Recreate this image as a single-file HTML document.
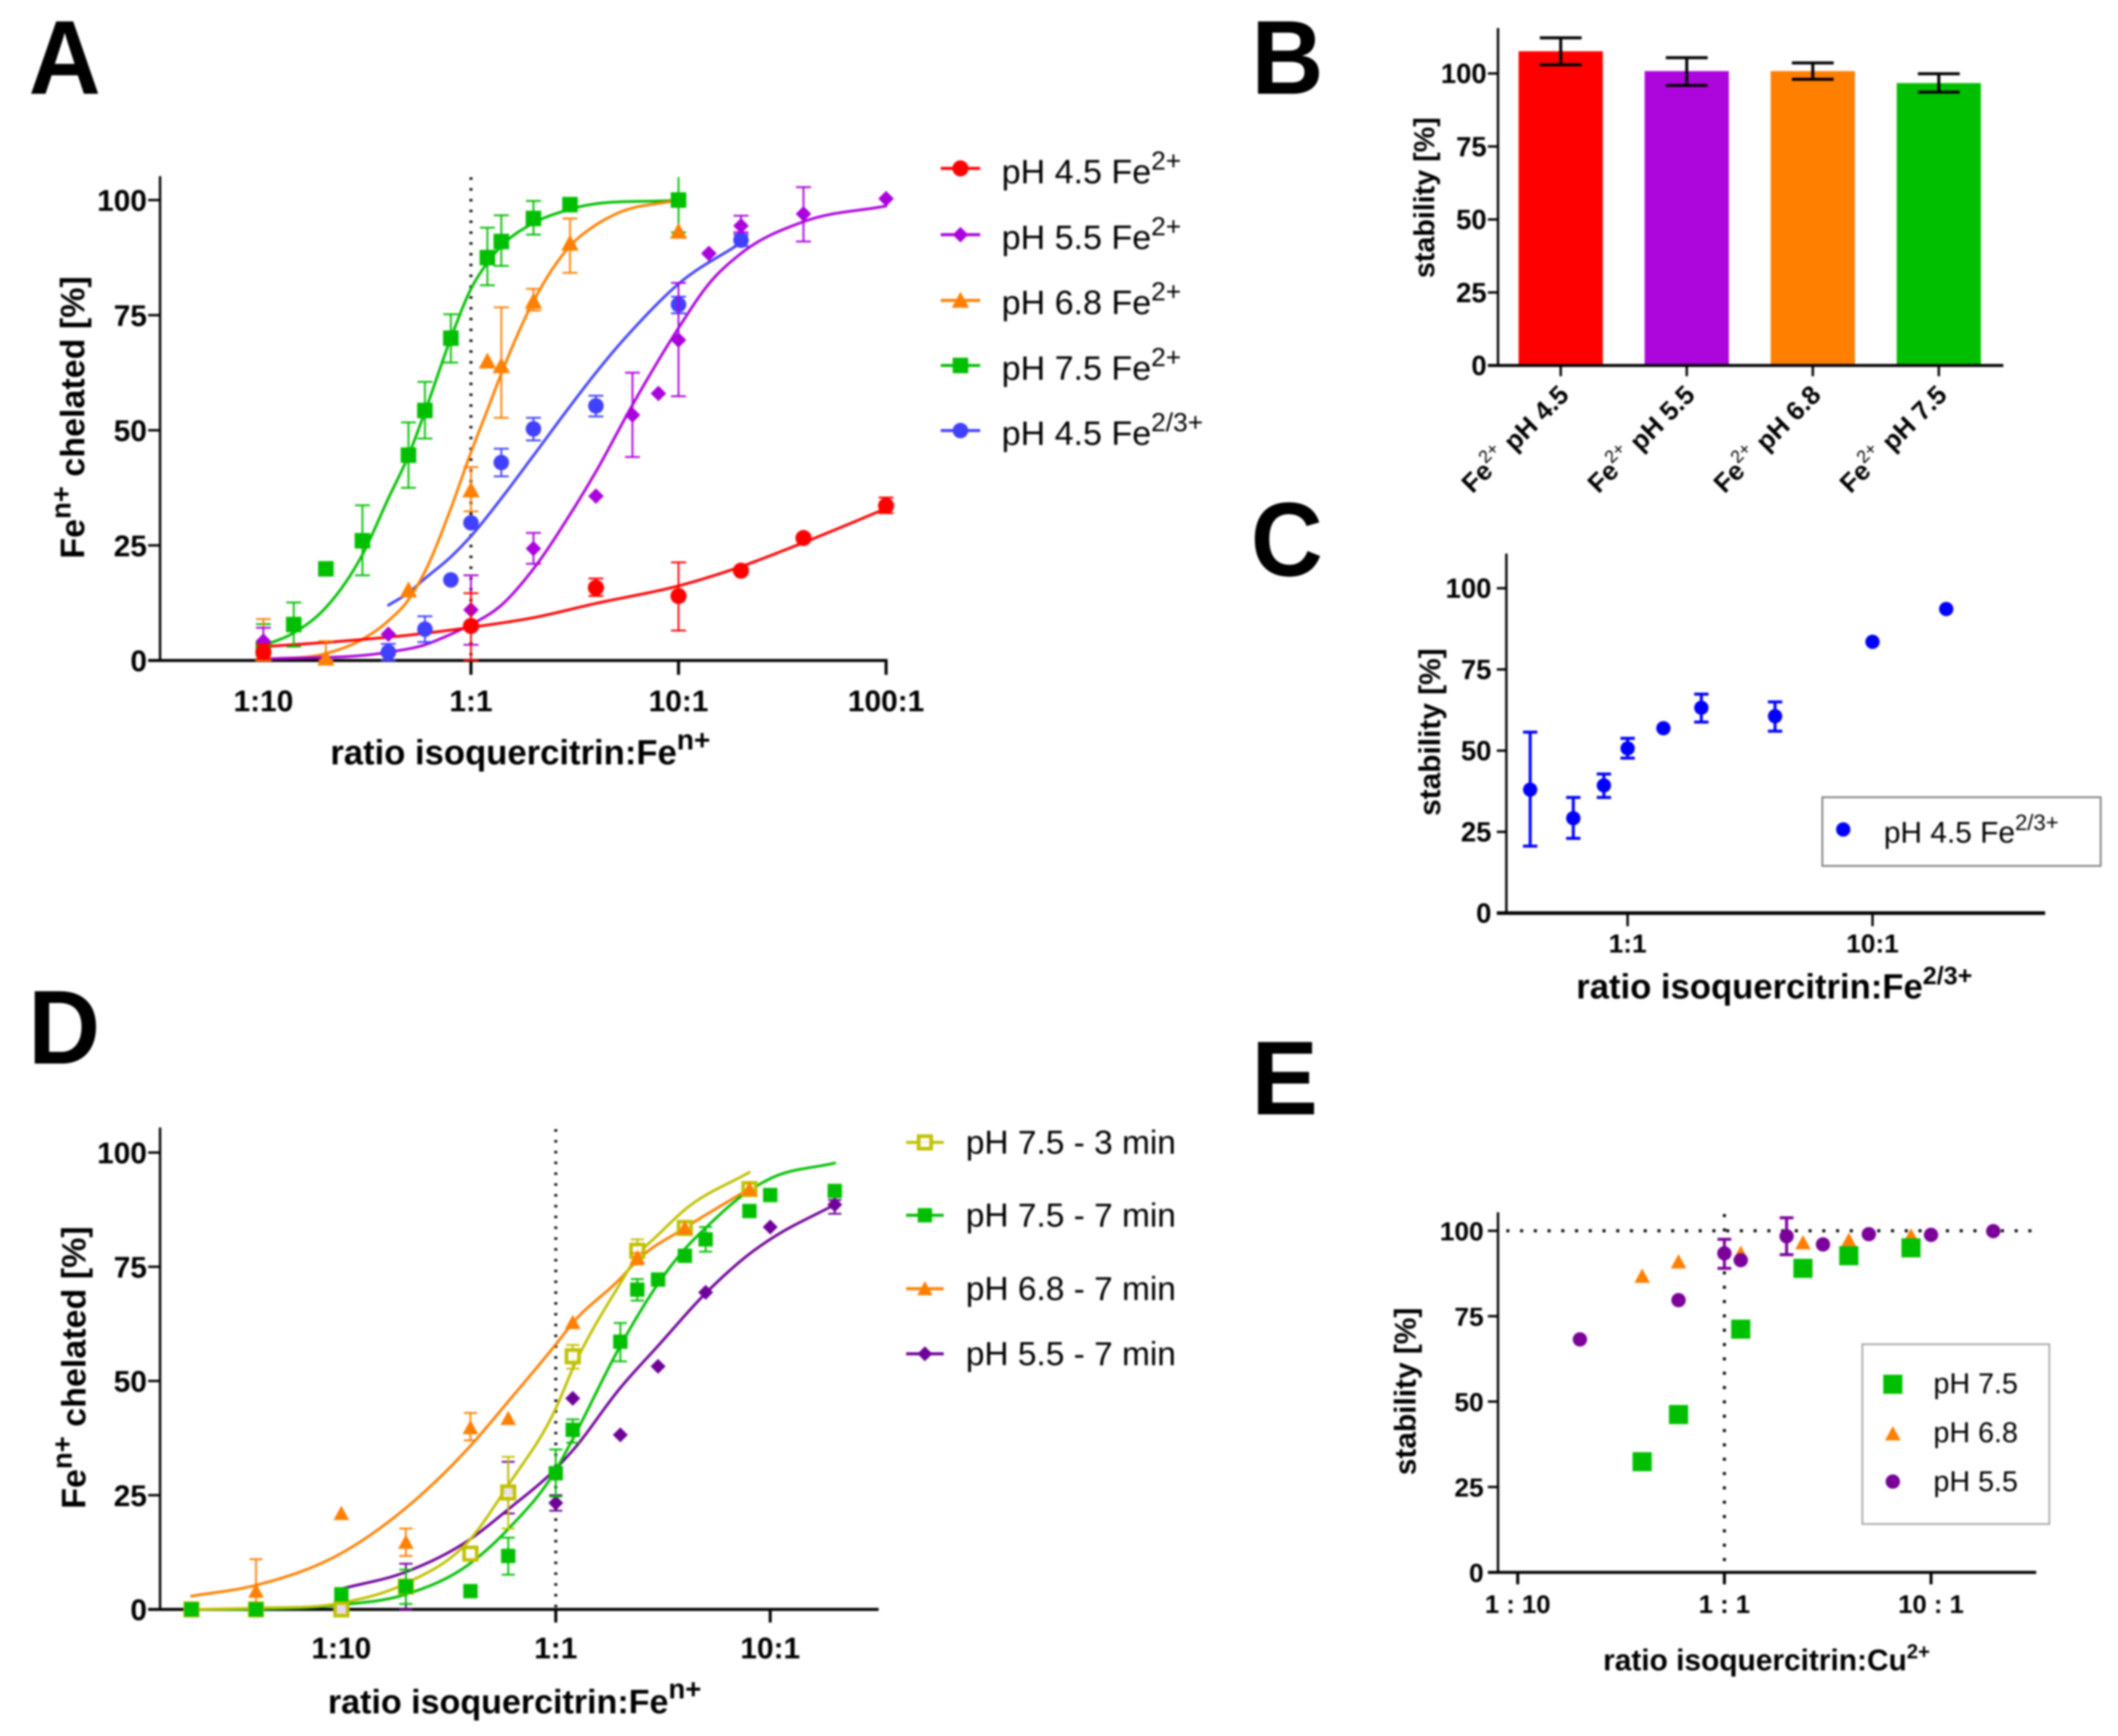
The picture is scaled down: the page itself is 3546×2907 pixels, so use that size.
<!DOCTYPE html>
<html lang="en">
<head>
<meta charset="utf-8">
<title>Isoquercitrin metal chelation panels</title>
<style>
html,body{margin:0;padding:0;background:#fff;width:3546px;height:2907px;overflow:hidden}
svg{display:block;filter:blur(1.5px)}
text{font-family:"Liberation Sans",Arial,sans-serif;fill:#000}
.b{font-weight:700}
.letter{font-weight:700;font-size:176px}
</style>
</head>
<body>
<svg id="fig" xmlns="http://www.w3.org/2000/svg" width="3546" height="2907" viewBox="0 0 3546 2907">
<rect width="3546" height="2907" fill="#fff"/>

<g id="panel-a">
  <text class="letter" transform="translate(48,157) scale(.95,1)">A</text>
  <text class="b" font-size="57" text-anchor="middle" transform="translate(141,699) rotate(-90)">Fe<tspan dy="-23" font-size="46">n+</tspan><tspan dy="23"> chelated [%]</tspan></text>
  <text class="b" font-size="58" x="553" y="1280">ratio isoquercitrin:Fe<tspan dy="-25" font-size="47">n+</tspan></text>
  <text font-size="57" x="1677" y="307">pH 4.5 Fe<tspan dy="-23" font-size="44">2+</tspan></text>
  <text font-size="57" x="1677" y="417">pH 5.5 Fe<tspan dy="-23" font-size="44">2+</tspan></text>
  <text font-size="57" x="1677" y="526">pH 6.8 Fe<tspan dy="-23" font-size="44">2+</tspan></text>
  <text font-size="57" x="1677" y="636">pH 7.5 Fe<tspan dy="-23" font-size="44">2+</tspan></text>
  <text font-size="57" x="1677" y="745">pH 4.5 Fe<tspan dy="-23" font-size="44">2/3+</tspan></text>
</g>

<g id="panel-b">
  <text class="letter" transform="translate(2095,157) scale(.95,1)">B</text>
  <text class="b" font-size="48" text-anchor="middle" transform="translate(2401,331) rotate(-90)">stability [%]</text>
</g>

<g id="panel-c">
  <text class="letter" transform="translate(2094,964) scale(.95,1)">C</text>
  <text class="b" font-size="50" text-anchor="middle" transform="translate(2411,1226) rotate(-90)">stability [%]</text>
  <text class="b" font-size="58" x="2639" y="1672">ratio isoquercitrin:Fe<tspan dy="-24" font-size="42">2/3+</tspan></text>
  <rect x="3051" y="1335" width="466" height="115" fill="#fff" stroke="#808080" stroke-width="3"/>
  <text font-size="50" x="3154" y="1411">pH 4.5 Fe<tspan dy="-21" font-size="37">2/3+</tspan></text>
</g>

<g id="panel-d">
  <text class="letter" transform="translate(47,1781) scale(.95,1)">D</text>
  <text class="b" font-size="57" text-anchor="middle" transform="translate(143,2290) rotate(-90)">Fe<tspan dy="-23" font-size="46">n+</tspan><tspan dy="23"> chelated [%]</tspan></text>
  <text class="b" font-size="57" x="549" y="2869">ratio isoquercitrin:Fe<tspan dy="-25" font-size="46">n+</tspan></text>
  <text font-size="56" x="1617" y="1932">pH 7.5 - 3 min</text>
  <text font-size="56" x="1617" y="2054">pH 7.5 - 7 min</text>
  <text font-size="56" x="1617" y="2177">pH 6.8 - 7 min</text>
  <text font-size="56" x="1617" y="2286">pH 5.5 - 7 min</text>
</g>

<g id="panel-e">
  <text class="letter" transform="translate(2095,1866) scale(.95,1)">E</text>
  <text class="b" font-size="50" text-anchor="middle" transform="translate(2370,2330) rotate(-90)">stability [%]</text>
  <text class="b" font-size="50" x="2684" y="2797">ratio isoquercitrin:Cu<tspan dy="-20" font-size="34">2+</tspan></text>
  <rect x="3118" y="2251" width="313" height="301" fill="#fff" stroke="#aaaaaa" stroke-width="3"/>
  <text font-size="48" x="3237" y="2333">pH 7.5</text>
  <text font-size="48" x="3237" y="2415">pH 6.8</text>
  <text font-size="48" x="3237" y="2497">pH 5.5</text>
</g>
</svg>

<script>
/* shared drawing helpers */
const NS = 'http://www.w3.org/2000/svg';
function mk(parent, tag, name, attrs) {
  const el = document.createElementNS(NS, tag);
  for (const k in attrs) el.setAttribute(k, attrs[k]);
  
  
  parent.appendChild(el);
  return el;
}
function logScale(px1, decade) { return r => px1 + decade * Math.log10(r); }
function linScale(py0, perUnit) { return v => py0 - perUnit * v; }
function marker(parent, shape, cx, cy, s, color, name) {
  const h = s / 2;
  if (shape === 'circle') return mk(parent, 'circle', name, {cx: cx, cy: cy, r: h, fill: color});
  if (shape === 'square') return mk(parent, 'rect', name, {x: cx - h, y: cy - h, width: s, height: s, fill: color});
  if (shape === 'open') return mk(parent, 'rect', name, {x: cx - h + 3, y: cy - h + 3, width: s - 6, height: s - 6, fill: '#fff', 'fill-opacity': 0.85, stroke: color, 'stroke-width': 6});
  if (shape === 'diamond') return mk(parent, 'polygon', name, {points: [cx, cy - h, cx + h, cy, cx, cy + h, cx - h, cy].join(' '), fill: color});
  return mk(parent, 'polygon', name, {points: [cx, cy - h, cx + h, cy + h * 0.85, cx - h, cy + h * 0.85].join(' '), fill: color});
}
function splinePath(px, py) {
  const n = px.length, m = [];
  for (let i = 0; i < n; i++) {
    if (i === 0) { m.push((py[1] - py[0]) / (px[1] - px[0])); continue; }
    if (i === n - 1) { m.push((py[i] - py[i - 1]) / (px[i] - px[i - 1])); continue; }
    const h0 = px[i] - px[i - 1], h1 = px[i + 1] - px[i];
    m.push(((py[i + 1] - py[i]) / h1 * h0 + (py[i] - py[i - 1]) / h0 * h1) / (h0 + h1));
  }
  let d = 'M' + px[0].toFixed(1) + ' ' + py[0].toFixed(1);
  for (let i = 0; i < n - 1; i++) {
    const h = px[i + 1] - px[i];
    d += 'C' + (px[i] + h / 3).toFixed(1) + ' ' + (py[i] + m[i] * h / 3).toFixed(1) + ' ' +
         (px[i + 1] - h / 3).toFixed(1) + ' ' + (py[i + 1] - m[i + 1] * h / 3).toFixed(1) + ' ' +
         px[i + 1].toFixed(1) + ' ' + py[i + 1].toFixed(1);
  }
  return d;
}
function curve(parent, xs, ys, sx, sy, color, width, name) {
  return mk(parent, 'path', name, {d: splinePath(xs.map(sx), ys.map(sy)), fill: 'none', stroke: color, 'stroke-width': width, 'stroke-linecap': 'round'});
}
function errorBar(parent, x, yHi, yLo, capW, color, width, name, noTopCap) {
  const g = mk(parent, 'g', name, {stroke: color, 'stroke-width': width});
  mk(g, 'line', name + '-stem', {x1: x, x2: x, y1: yHi, y2: yLo});
  if (!noTopCap) mk(g, 'line', name + '-cap-high', {x1: x - capW / 2, x2: x + capW / 2, y1: yHi, y2: yHi});
  mk(g, 'line', name + '-cap-low', {x1: x - capW / 2, x2: x + capW / 2, y1: yLo, y2: yLo});
}
function points(parent, prefix, xs, ys, hi, lo, sx, sy, o) {
  xs.forEach((x, i) => {
    if (hi && hi[i] !== null) errorBar(parent, sx(x), sy(hi[i]), sy(lo[i]), o.cap, o.color, o.ew, prefix + '-error-' + i, o.yMax !== undefined && hi[i] >= o.yMax);
  });
  xs.forEach((x, i) => {
    marker(parent, o.shape, sx(x), sy(ys[i]), o.size, o.color, prefix + '-point-' + i);
  });
}
function yAxis(parent, prefix, x, top, y0, left, sy, ticks, labelRight, fontSize, offset, lw) {
  mk(parent, 'line', prefix + '-y-axis', {x1: x, x2: x, y1: top, y2: y0 + lw / 2, stroke: '#000', 'stroke-width': lw});
  ticks.forEach(t => {
    mk(parent, 'line', prefix + '-y-tick-' + t, {x1: left, x2: x, y1: sy(t), y2: sy(t), stroke: '#000', 'stroke-width': lw});
    const el = mk(parent, 'text', prefix + '-y-label-' + t, {x: labelRight, y: sy(t) + offset, 'text-anchor': 'end', 'font-size': fontSize, 'font-weight': 700});
    el.textContent = String(t);
  });
}
function xAxisLine(parent, prefix, left, right, y0, lw) {
  mk(parent, 'line', prefix + '-x-axis', {x1: left, x2: right, y1: y0, y2: y0, stroke: '#000', 'stroke-width': lw});
}
function xTicks(parent, prefix, marks, sx, y0, len, lw) {
  marks.forEach(m => {
    mk(parent, 'line', prefix + '-x-tick-' + m, {x1: sx(m), x2: sx(m), y1: y0, y2: y0 + len, stroke: '#000', 'stroke-width': lw});
  });
}
function xLabels(parent, prefix, vals, labels, sx, y, fontSize) {
  vals.forEach((v, i) => {
    const el = mk(parent, 'text', prefix + '-x-label-' + i, {x: sx(v), y: y, 'text-anchor': 'middle', 'font-size': fontSize, 'font-weight': 700});
    el.textContent = labels[i];
  });
}
function legendKey(parent, prefix, x1, x2, y, shape, size, color, lw) {
  mk(parent, 'line', prefix + '-line', {x1: x1, x2: x2, y1: y, y2: y, stroke: color, 'stroke-width': lw});
  marker(parent, shape, (x1 + x2) / 2, y, size, color, prefix + '-marker');
}
</script>

<script>
/* panel A data */
const aYTicks = [0, 25, 50, 75, 100];
const aXTickMarks = [1, 10, 100];
const aXLabelValues = [0.1, 1, 10, 100];
const aXLabels = ['1:10', '1:1', '10:1', '100:1'];
const aVerticalRefX = [1];

const aRedX  = [0.1, 1, 4, 10, 20, 40, 100];
const aRedY  = [1.8, 7.5, 15.8, 14, 19.5, 26.6, 33.6];
const aRedHi = [3.5, 14.6, 17.8, 21.3, null, null, 35.4];
const aRedLo = [0.3, 0, 14, 6.5, null, null, 32];
const aRedCurveX = [0.1, 0.24, 0.5, 1, 2, 4, 10, 20, 40, 100];
const aRedCurveY = [3, 4.2, 5.5, 7.2, 9.3, 12.4, 16.2, 20.4, 25.6, 33];

const aPurpleX  = [0.1, 0.4, 1, 2, 4, 6, 8, 10, 14, 20, 40, 100];
const aPurpleY  = [4.2, 5.7, 11, 24.3, 35.7, 53.3, 58, 69.6, 88.4, 94.4, 97, 100.3];
const aPurpleHi = [7.1, null, 18.5, 27.7, null, 62.5, null, 82, null, 96.6, 102.8, null];
const aPurpleLo = [1.5, null, 3.4, 21, null, 44.2, null, 57.4, null, 93, 91, null];
const aPurpleCurveX = [0.1, 0.4, 0.6, 0.8, 1, 1.4, 2, 3, 4, 6, 10, 14, 20, 40, 100];
const aPurpleCurveY = [0.3, 1.8, 3.4, 5.7, 7.8, 12, 19.9, 31.7, 41, 55.5, 72.2, 81.8, 88.4, 95.3, 98.7];

const aOrangeX  = [0.1, 0.2, 0.5, 1, 1.2, 1.4, 2, 3, 10];
const aOrangeY  = [1.5, 0.5, 15.3, 37, 65, 64, 78, 90.6, 93.2];
const aOrangeHi = [9, 4.2, null, 42, null, 76.7, 80.7, 96, null];
const aOrangeLo = [0, 0, null, 32.4, null, 52.7, 76, 84.2, null];
const aOrangeCurveX = [0.1, 0.2, 0.3, 0.4, 0.5, 0.6, 0.8, 1, 1.2, 1.4, 2, 3, 4, 5, 10];
const aOrangeCurveY = [0.3, 1.5, 4.6, 8.6, 13.2, 19.3, 33, 45.2, 54.4, 62.3, 78, 90, 94.6, 97, 100];

const aGreenX  = [0.1, 0.14, 0.2, 0.3, 0.5, 0.6, 0.8, 1.2, 1.4, 2, 3, 10];
const aGreenY  = [2.5, 7.8, 19.9, 26, 44.6, 54.3, 70, 87.5, 91, 96, 99, 100];
const aGreenHi = [7.9, 12.6, null, 33.7, 51.7, 60.5, 75.2, 94, 96.7, 99.8, null, 105];
const aGreenLo = [0, 3, null, 18.5, 37.5, 48.2, 64.7, 81.5, 85.7, 92.5, null, 93];
const aGreenCurveX = [0.1, 0.14, 0.2, 0.3, 0.4, 0.5, 0.6, 0.8, 1, 1.2, 1.4, 2, 3, 10];
const aGreenCurveY = [3.2, 6, 11.5, 23, 35.2, 44.5, 54, 70, 80.7, 86.4, 90, 95, 98, 100];

const aBlueX  = [0.4, 0.6, 0.8, 1, 1.4, 2, 4, 10, 20];
const aBlueY  = [1.8, 6.8, 17.5, 29.9, 43, 50.3, 55.3, 77.3, 91.3];
const aBlueHi = [3.6, 9.6, null, null, 46, 52.7, 57.5, 79, 92.5];
const aBlueLo = [0, 4, null, null, 40, 47.8, 53, 75.4, 90];
const aBlueCurveX = [0.4, 0.5, 0.6, 0.8, 1, 1.4, 2, 3, 4, 5, 6, 10, 20];
const aBlueCurveY = [12, 14.7, 17.8, 22.5, 27, 35.2, 44.5, 55.2, 62.5, 67.8, 71.8, 81.8, 90.7];

(function () {
  const P = document.getElementById('panel-a');
  const sx = logScale(788.5, 347.5), sy = linScale(1106, 7.71);
  const RED = '#ff0000', PUR = '#aa00dd', ORG = '#ff7f00', GRN = '#00bf00', BLU = '#4040ff';
  yAxis(P, 'a', 268, 295, 1106, 248, sy, aYTicks, 246, 50, 18, 4);
  xAxisLine(P, 'a', 248, 1486, 1106, 5);
  xTicks(P, 'a', aXTickMarks, sx, 1106, 24, 5);
  xLabels(P, 'a', aXLabelValues, aXLabels, sx, 1191, 50);
  aVerticalRefX.forEach(v => {
    mk(P, 'line', 'a-reference-line-1-1', {x1: sx(v), x2: sx(v), y1: 297, y2: 1104, stroke: '#000', 'stroke-width': 5, 'stroke-dasharray': '4 14.1'});
  });
  curve(P, aBlueCurveX, aBlueCurveY, sx, sy, BLU, 4.5, 'a-curve-ph45-fe23');
  curve(P, aGreenCurveX, aGreenCurveY, sx, sy, GRN, 4.5, 'a-curve-ph75-fe2');
  curve(P, aOrangeCurveX, aOrangeCurveY, sx, sy, ORG, 4.5, 'a-curve-ph68-fe2');
  curve(P, aPurpleCurveX, aPurpleCurveY, sx, sy, PUR, 4.5, 'a-curve-ph55-fe2');
  curve(P, aRedCurveX, aRedCurveY, sx, sy, RED, 4.5, 'a-curve-ph45-fe2');
  points(P, 'a-ph45-fe23', aBlueX, aBlueY, aBlueHi, aBlueLo, sx, sy, {shape: 'circle', size: 26, color: BLU, cap: 25, ew: 3});
  points(P, 'a-ph75-fe2', aGreenX, aGreenY, aGreenHi, aGreenLo, sx, sy, {shape: 'square', size: 26, color: GRN, cap: 25, ew: 3, yMax: 105});
  points(P, 'a-ph68-fe2', aOrangeX, aOrangeY, aOrangeHi, aOrangeLo, sx, sy, {shape: 'triangle', size: 29, color: ORG, cap: 25, ew: 3});
  points(P, 'a-ph55-fe2', aPurpleX, aPurpleY, aPurpleHi, aPurpleLo, sx, sy, {shape: 'diamond', size: 26, color: PUR, cap: 25, ew: 3});
  points(P, 'a-ph45-fe2', aRedX, aRedY, aRedHi, aRedLo, sx, sy, {shape: 'circle', size: 27, color: RED, cap: 25, ew: 3});
  legendKey(P, 'a-legend-ph45-fe2', 1575, 1641, 282, 'circle', 27, RED, 5);
  legendKey(P, 'a-legend-ph55-fe2', 1575, 1641, 393, 'diamond', 26, PUR, 5);
  legendKey(P, 'a-legend-ph68-fe2', 1575, 1641, 503, 'triangle', 29, ORG, 5);
  legendKey(P, 'a-legend-ph75-fe2', 1575, 1641, 612, 'square', 26, GRN, 5);
  legendKey(P, 'a-legend-ph45-fe23', 1575, 1641, 721, 'circle', 26, BLU, 5);
})();
</script>

<script>
/* panel B data */
const bCategories = ['pH 4.5', 'pH 5.5', 'pH 6.8', 'pH 7.5'];
const bValues = [107.6, 100.8, 100.8, 96.7];
const bErrHi = [112.2, 105.4, 103.6, 99.9];
const bErrLo = [103, 95.9, 98, 93.6];
const bColors = ['#ff0000', '#ad06dd', '#ff7f00', '#00bf00'];
const bYTicks = [0, 25, 50, 75, 100];

(function () {
  const P = document.getElementById('panel-b');
  const sy = linScale(612, 4.89);
  const sx = i => 2613 + i * 211;
  const barW = 141;
  yAxis(P, 'b', 2508, 47, 612, 2491, sy, bYTicks, 2489, 46, 16, 4);
  bValues.forEach((v, i) => {
    mk(P, 'rect', 'b-bar-' + i, {x: sx(i) - barW / 2, y: sy(v), width: barW, height: sy(0) - sy(v), fill: bColors[i]});
  });
  bValues.forEach((v, i) => {
    errorBar(P, sx(i), sy(bErrHi[i]), sy(bErrLo[i]), 70, '#000', 5, 'b-error-' + i);
  });
  xAxisLine(P, 'b', 2491, 3354, 612, 5);
  bCategories.forEach((c, i) => {
    mk(P, 'line', 'b-x-tick-' + i, {x1: sx(i), x2: sx(i), y1: 612, y2: 630, stroke: '#000', 'stroke-width': 4});
    const t = mk(P, 'text', 'b-x-label-' + i, {'text-anchor': 'end', 'font-size': 44, 'font-weight': 700, transform: 'translate(' + (sx(i) + 16) + ',664) rotate(-45)'});
    const a = mk(t, 'tspan', 'b-x-label-metal-' + i, {});
    a.textContent = 'Fe';
    const s = mk(t, 'tspan', 'b-x-label-charge-' + i, {dy: -20, 'font-size': 30, 'font-weight': 400});
    s.textContent = '2+';
    const b = mk(t, 'tspan', 'b-x-label-ph-' + i, {dy: 20, dx: 14});
    b.textContent = c;
  });
})();
</script>

<script>
/* panel C data */
const cX = [0.4, 0.6, 0.8, 1, 1.4, 2, 4, 10, 20];
const cY = [38, 29.2, 39.3, 50.7, 56.9, 63.2, 60.6, 83.5, 93.6];
const cHi = [55.7, 35.6, 42.8, 53.8, null, 67.4, 65, null, null];
const cLo = [20.6, 23, 35.6, 47.7, null, 58.8, 56, null, null];
const cYTicks = [0, 25, 50, 75, 100];
const cXTickValues = [1, 10];
const cXLabels = ['1:1', '10:1'];

(function () {
  const P = document.getElementById('panel-c');
  const sx = logScale(2725, 410), sy = linScale(1529, 5.44);
  yAxis(P, 'c', 2522, 927, 1529, 2506, sy, cYTicks, 2497, 46, 16, 4);
  xAxisLine(P, 'c', 2506, 3424, 1529, 6);
  xTicks(P, 'c', cXTickValues, sx, 1529, 22, 4);
  xLabels(P, 'c', cXTickValues, cXLabels, sx, 1595, 44);
  points(P, 'c-ph45-fe23', cX, cY, cHi, cLo, sx, sy, {shape: 'circle', size: 24, color: '#0000ff', cap: 24, ew: 5});
  marker(P, 'circle', 3086, 1389, 24, '#0000ff', 'c-legend-marker');
})();
</script>

<script>
/* panel D data */
const dYTicks = [0, 25, 50, 75, 100];
const dXTickMarks = [1, 10];
const dXLabelValues = [0.1, 1, 10];
const dXLabels = ['1:10', '1:1', '10:1'];
const dVerticalRefX = [1];

const dYellowX  = [0.02, 0.04, 0.1, 0.2, 0.4, 0.6, 1.2, 2.4, 4, 8];
const dYellowY  = [0, 0, 0, 5, 12.2, 25.6, 55.4, 78.5, 83.5, 92];
const dYellowHi = [null, null, null, null, null, 33.4, 57.9, 81, null, null];
const dYellowLo = [null, null, null, null, null, 17.7, 52.7, 76, null, null];
const dYellowCurveX = [0.02, 0.04, 0.1, 0.2, 0.4, 0.6, 1, 1.2, 2, 2.4, 3, 4, 8];
const dYellowCurveY = [0, 0.3, 1.4, 5.7, 15.4, 27.2, 44, 52.7, 71.4, 77.4, 82, 87.5, 95.7];

const dGreenX  = [0.02, 0.04, 0.1, 0.2, 0.4, 0.6, 1, 1.2, 2, 2.4, 3, 4, 5, 8, 10, 20];
const dGreenY  = [0, 0, 3.3, 5, 4, 11.7, 29.8, 39.3, 58.6, 70, 72.2, 77.4, 81, 87.2, 90.7, 91.6];
const dGreenHi = [null, null, null, 8.7, null, 15.7, 35, 41.6, 62.7, 72.3, null, null, 83.7, null, null, null];
const dGreenLo = [null, null, null, 1.2, null, 7.6, 24.7, 36.5, 54.3, 67.6, null, null, 78.3, null, null, null];
const dGreenCurveX = [0.02, 0.04, 0.1, 0.2, 0.4, 0.6, 1, 1.2, 2, 3, 4, 5, 8, 10, 20];
const dGreenCurveY = [0, 0.1, 1, 3.3, 10.1, 17.6, 30.5, 37.3, 57.7, 71.3, 78.9, 83.5, 91.7, 94.3, 97.7];

const dOrangeX  = [0.02, 0.04, 0.1, 0.2, 0.4, 0.6, 1.2, 2.4, 4, 8];
const dOrangeY  = [0, 4, 21, 14.7, 39.8, 41.8, 62.8, 77, 83.5, 92];
const dOrangeHi = [null, 11, null, 17.7, 43, null, null, 78, null, null];
const dOrangeLo = [null, 0, null, 11.7, 37, null, null, 75.5, null, null];
const dOrangeCurveX = [0.02, 0.04, 0.1, 0.2, 0.4, 0.6, 1, 1.2, 2, 2.4, 4, 8];
const dOrangeCurveY = [2.9, 5.3, 12.3, 22.2, 35.8, 45.5, 58, 62.7, 72.4, 76.4, 83.5, 92.1];

const dPurpleX  = [0.1, 0.2, 0.6, 1, 1.2, 2, 3, 5, 10, 20];
const dPurpleY  = [0, 5, 26, 23.3, 46.2, 38.2, 53.2, 69.4, 83.7, 88.6];
const dPurpleHi = [null, 10, 32.3, 25, null, null, null, null, null, 89.6];
const dPurpleLo = [null, 0, 21, 21.6, null, null, null, null, null, 86.6];
const dPurpleCurveX = [0.1, 0.2, 0.4, 0.6, 1, 1.2, 2, 3, 5, 8, 10, 20];
const dPurpleCurveY = [4.5, 8.2, 15.4, 21.9, 30.8, 34.8, 48.5, 57.7, 69.2, 77.8, 81, 88.6];

(function () {
  const P = document.getElementById('panel-d');
  const sx = logScale(930.5, 359), sy = linScale(2695, 7.65);
  const YEL = '#c0c000', GRN = '#00bf00', ORG = '#ff7f00', PUR = '#6e0099';
  yAxis(P, 'd', 268, 1888, 2695, 248, sy, dYTicks, 246, 50, 18, 4);
  xAxisLine(P, 'd', 248, 1471, 2695, 5);
  xTicks(P, 'd', dXTickMarks, sx, 2695, 22, 5);
  xLabels(P, 'd', dXLabelValues, dXLabels, sx, 2777, 50);
  dVerticalRefX.forEach(v => {
    mk(P, 'line', 'd-reference-line-1-1', {x1: sx(v), x2: sx(v), y1: 1891, y2: 2693, stroke: '#000', 'stroke-width': 5, 'stroke-dasharray': '4 14.1'});
  });
  curve(P, dPurpleCurveX, dPurpleCurveY, sx, sy, PUR, 4.5, 'd-curve-ph55-7min');
  curve(P, dOrangeCurveX, dOrangeCurveY, sx, sy, ORG, 4.5, 'd-curve-ph68-7min');
  curve(P, dGreenCurveX, dGreenCurveY, sx, sy, GRN, 4.5, 'd-curve-ph75-7min');
  curve(P, dYellowCurveX, dYellowCurveY, sx, sy, YEL, 4.5, 'd-curve-ph75-3min');
  points(P, 'd-ph55-7min', dPurpleX, dPurpleY, dPurpleHi, dPurpleLo, sx, sy, {shape: 'diamond', size: 25, color: PUR, cap: 22, ew: 3});
  points(P, 'd-ph75-3min', dYellowX, dYellowY, dYellowHi, dYellowLo, sx, sy, {shape: 'open', size: 27, color: YEL, cap: 22, ew: 3});
  points(P, 'd-ph68-7min', dOrangeX, dOrangeY, dOrangeHi, dOrangeLo, sx, sy, {shape: 'triangle', size: 26, color: ORG, cap: 22, ew: 3});
  points(P, 'd-ph75-7min', dGreenX, dGreenY, dGreenHi, dGreenLo, sx, sy, {shape: 'square', size: 24, color: GRN, cap: 22, ew: 3});
  legendKey(P, 'd-legend-ph75-3min', 1517, 1580, 1913, 'open', 27, YEL, 5);
  legendKey(P, 'd-legend-ph75-7min', 1517, 1580, 2035, 'square', 24, GRN, 5);
  legendKey(P, 'd-legend-ph68-7min', 1517, 1580, 2158, 'triangle', 26, ORG, 5);
  legendKey(P, 'd-legend-ph55-7min', 1517, 1580, 2267, 'diamond', 25, PUR, 5);
})();
</script>

<script>
/* panel E data */
const eYTicks = [0, 25, 50, 75, 100];
const eXTickValues = [0.1, 1, 10];
const eXLabels = ['1 : 10', '1 : 1', '10 : 1'];
const eReferenceStability = [100];
const eReferenceRatio = [1];

const eGreenX = [0.4, 0.6, 1.2, 2.4, 4, 8];
const eGreenY = [32.4, 46.2, 71.2, 89, 92.7, 95];

const eOrangeX = [0.4, 0.6, 1.2, 2.4, 4, 8];
const eOrangeY = [86.7, 90.9, 93.4, 96.5, 97.2, 98.5];

const ePurpleX  = [0.2, 0.6, 1, 1.2, 2, 3, 5, 10, 20];
const ePurpleY  = [68.2, 79.7, 93.4, 91.4, 98.4, 96, 99, 98.8, 99.9];
const ePurpleHi = [null, null, 97.5, null, 103.8, null, null, null, null];
const ePurpleLo = [null, null, 89, null, 93, null, null, null, null];

(function () {
  const P = document.getElementById('panel-e');
  const sx = logScale(2887, 346), sy = linScale(2633, 5.72);
  const GRN = '#00bf00', ORG = '#ff7f00', PUR = '#7a0099';
  yAxis(P, 'e', 2508, 2030, 2633, 2491, sy, eYTicks, 2484, 44, 16, 4);
  xAxisLine(P, 'e', 2491, 3409, 2633, 5);
  xTicks(P, 'e', eXTickValues, sx, 2633, 20, 5);
  xLabels(P, 'e', eXTickValues, eXLabels, sx, 2701, 43);
  eReferenceStability.forEach(v => {
    mk(P, 'line', 'e-reference-line-100', {x1: 2522, x2: 3409, y1: sy(v), y2: sy(v), stroke: '#000', 'stroke-width': 5, 'stroke-dasharray': '5 18'});
  });
  eReferenceRatio.forEach(v => {
    mk(P, 'line', 'e-reference-line-1-1', {x1: sx(v), x2: sx(v), y1: 2033, y2: 2631, stroke: '#000', 'stroke-width': 5, 'stroke-dasharray': '5 19'});
  });
  points(P, 'e-ph68', eOrangeX, eOrangeY, null, null, sx, sy, {shape: 'triangle', size: 26, color: ORG});
  points(P, 'e-ph75', eGreenX, eGreenY, null, null, sx, sy, {shape: 'square', size: 32, color: GRN});
  points(P, 'e-ph55', ePurpleX, ePurpleY, ePurpleHi, ePurpleLo, sx, sy, {shape: 'circle', size: 24, color: PUR, cap: 23, ew: 5});
  marker(P, 'square', 3169, 2318, 32, GRN, 'e-legend-marker-ph75');
  marker(P, 'triangle', 3169, 2401, 26, ORG, 'e-legend-marker-ph68');
  marker(P, 'circle', 3169, 2481, 24, PUR, 'e-legend-marker-ph55');
})();
</script>
</body>
</html>
